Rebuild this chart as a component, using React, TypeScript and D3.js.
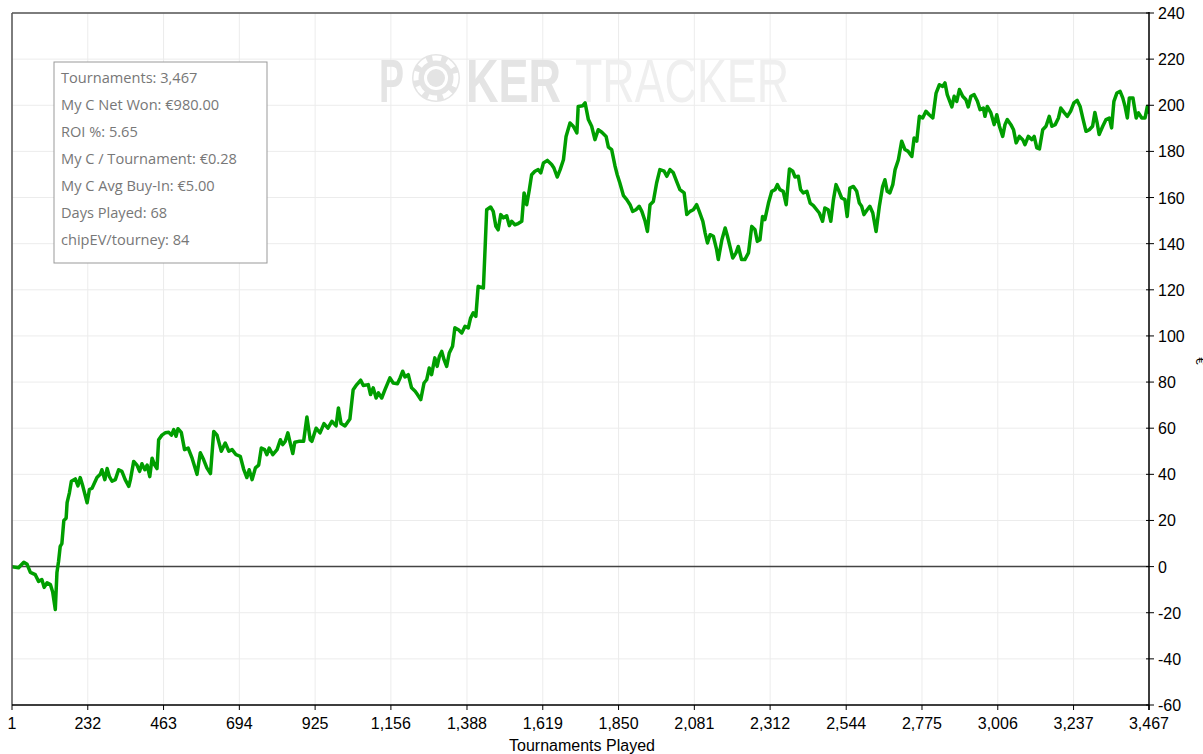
import React from "react";
import * as d3 from "d3";

const tournaments = [1,21,37,47,57,72,82,92,99,108,118,125,133,138,143,148,153,159,166,169,176,182,194,202,209,217,230,237,245,260,270,275,284,291,298,306,316,326,336,346,357,362,372,382,390,397,406,413,421,428,436,443,448,458,468,479,487,494,501,507,517,527,538,550,565,575,585,595,606,616,626,639,651,662,672,684,697,707,717,724,733,743,753,761,771,778,785,796,809,819,826,834,842,849,857,863,875,890,900,910,915,928,940,952,964,976,989,996,1004,1016,1031,1041,1052,1064,1072,1087,1094,1102,1111,1118,1128,1138,1153,1163,1176,1184,1192,1199,1209,1219,1230,1237,1247,1257,1265,1273,1280,1290,1297,1304,1311,1318,1326,1334,1344,1351,1362,1372,1382,1392,1399,1407,1415,1422,1438,1443,1448,1460,1468,1476,1483,1491,1499,1509,1517,1524,1534,1544,1555,1562,1570,1578,1585,1595,1605,1613,1621,1633,1646,1653,1663,1672,1682,1690,1702,1712,1723,1727,1741,1748,1758,1768,1778,1788,1799,1812,1819,1829,1839,1846,1854,1865,1875,1885,1893,1903,1913,1921,1931,1938,1946,1956,1966,1976,1989,1997,2007,2017,2027,2037,2050,2058,2068,2078,2088,2096,2107,2114,2121,2129,2139,2149,2154,2165,2175,2182,2192,2198,2208,2215,2225,2235,2246,2256,2266,2273,2281,2289,2296,2307,2317,2327,2334,2342,2352,2361,2371,2381,2388,2398,2405,2413,2424,2434,2444,2454,2462,2472,2479,2489,2497,2505,2513,2520,2530,2540,2547,2555,2566,2576,2584,2591,2598,2608,2616,2625,2635,2645,2655,2662,2669,2677,2686,2693,2703,2713,2723,2733,2744,2751,2759,2767,2777,2787,2797,2808,2818,2828,2838,2845,2852,2866,2873,2881,2889,2899,2909,2916,2924,2934,2944,2952,2962,2967,2974,2985,2995,3003,3011,3021,3028,3035,3046,3054,3062,3072,3082,3089,3099,3110,3117,3125,3133,3143,3153,3163,3171,3181,3191,3198,3208,3218,3228,3238,3248,3257,3265,3275,3285,3295,3302,3309,3315,3326,3336,3346,3353,3360,3369,3379,3387,3394,3401,3407,3418,3428,3435,3445,3455,3462,3467];

const netWon = [0,-0.5,1.9,1,-2.5,-3.5,-6.4,-5.6,-9,-7,-7.8,-11,-18.6,-2.6,2.3,8.8,10,20,21,27.7,32,37,38,35,38.6,34.8,27.7,33.4,34,38.6,40,42,37.7,42.5,39,37,37.7,42,41.3,37.7,34.8,37.7,45.6,44,41.3,44.6,42,44,39,47,44,42.5,55,57,58,58.2,57,59.4,56.5,59.8,58.2,50.7,51.4,47,40,49.4,46.4,42.8,40.3,58.6,57,50,53.6,50,50.7,48.5,47.8,42.3,38.6,42,37.7,42.8,44,51.4,50.7,48.5,51.4,48.5,50.7,55,52.9,54.3,58,53.6,49,53.9,54.3,54.3,64.9,55,54.3,60,58,62,60,63,61,68.8,62,61,64,76.7,78.9,80.8,78.5,78.9,74.6,77.5,73.1,75.3,73.1,76.7,81.8,79.6,79.3,81.8,84.7,82.2,83.2,77.5,76,74.6,72.4,79.6,81,86.1,83.2,90.5,86.8,91.2,93.3,89.7,86.8,92.6,95.5,103.5,102.7,101.3,104.2,103.5,107.8,110,108.5,121.5,120.8,137.4,154.7,155.9,154,147.5,146,152.6,151.2,152.1,147.8,149.7,148.2,148.7,149.7,162,156.9,163.4,169.9,171.4,172.1,170.7,175,176.1,174.3,172.8,168.9,172.1,176.4,186.5,192.3,190.9,188,199.5,199.8,201,193.8,190.9,185.1,189.4,188.3,186.5,181.9,180.8,173.8,169.9,166.3,160.8,159.1,156.9,154,154.7,156.2,154,149.7,145.3,156.9,158.3,166.3,172.1,171.4,169.2,172.1,170.7,167,163.4,162,152.6,154,154.7,156.9,154,149.7,144.6,140.3,143.9,143.2,137.4,133.1,141.7,146.8,143.2,137.4,133.8,136,138.8,133.1,133.1,136,147.5,146,141,141.7,151.8,150.4,157.6,162.7,163.4,165.6,163.4,162.7,156.9,172.4,171.4,168.9,169.2,163.4,162,162.7,157.6,156.5,154.7,153.3,149.7,155.5,154.7,149.7,159.1,165.6,163.4,159.8,159.1,151.8,164.1,164.8,162.7,157.6,156.2,152.6,154.7,156.2,153.3,145.3,156.2,164.8,167.7,162.7,162,165.6,172.1,176.4,184.4,180.8,180,177.8,185.8,184.4,195.2,194.5,197.4,195.9,194.5,205.3,208.9,208.2,209.7,204.6,199.3,203.9,201.7,206.8,203.9,202.4,199.3,203.9,204.6,201.7,198.1,198.8,195.2,199.5,196.7,191.6,195.9,190.9,186.5,191.6,193.8,191.6,189.4,183.7,186.5,185.1,182.9,186.5,185.1,186.5,181.5,181.1,189.4,190.9,195.2,190.9,191.6,194.5,198.8,196.9,195.2,197.4,201,202.1,199.5,194.5,188.7,189.4,190.9,196.9,192.3,187.3,190.9,193.8,194.5,190.2,201.7,205.3,206,203.2,199.5,194.5,203.2,203.2,194.5,196.7,194.5,194.5,199.5,197];

const xTicks = [1,232,463,694,925,1156,1388,1619,1850,2081,2312,2544,2775,3006,3237,3467];
const yTicks = [-60,-40,-20,0,20,40,60,80,100,120,140,160,180,200,220,240];

const infoLines = [
  "Tournaments: 3,467",
  "My C Net Won: €980.00",
  "ROI %: 5.65",
  "My C / Tournament: €0.28",
  "My C Avg Buy-In: €5.00",
  "Days Played: 68",
  "chipEV/tourney: 84",
];

const xTitle = "Tournaments Played";

export default function App() {
  const W = 1203, H = 754;
  const L = 12, R = 1149, T = 13, B = 705;
  const x = d3.scaleLinear().domain([1, 3467]).range([L, R]);
  const y = d3.scaleLinear().domain([-60, 240]).range([B, T]);
  const pts: [number, number][] = tournaments.map((t, i) => [t, netWon[i]]);
  const line = d3.line<[number, number]>().x(d => x(d[0])).y(d => y(d[1]));
  const fmt = d3.format(",");
  const axisFont = "'Liberation Sans', Arial, sans-serif";
  const infoFont = "'Open Sans', 'Noto Sans', sans-serif";

  return (
    <svg width={W} height={H} style={{ position: "absolute", left: 0, top: 0, background: "#fff" }}>
      <rect x={0} y={0} width={W} height={H} fill="#fff" />
      {yTicks.map(v => (
        <line key={"gy" + v} x1={L} x2={R} y1={y(v)} y2={y(v)} stroke="#ececec" strokeWidth={1} />
      ))}
      {xTicks.map(v => (
        <line key={"gx" + v} x1={x(v)} x2={x(v)} y1={T} y2={B} stroke="#ececec" strokeWidth={1} />
      ))}
      <g>
        <text x={379} y={102} fontFamily={axisFont} fontWeight="bold" fontSize={62} fill="#e4e4e4" textLength={25} lengthAdjust="spacingAndGlyphs">P</text>
        <circle cx={436} cy={78} r={24} fill="#e4e4e4" />
        <circle cx={436} cy={78} r={20} fill="none" stroke="#fff" strokeWidth={5} strokeDasharray="9 6" />
        <circle cx={436} cy={78} r={12} fill="#fff" />
        <circle cx={436} cy={78} r={9} fill="#e4e4e4" />
        <text x={466} y={102} fontFamily={axisFont} fontWeight="bold" fontSize={62} fill="#e4e4e4" textLength={95} lengthAdjust="spacingAndGlyphs">KER</text>
        <text x={575} y={102} fontFamily={axisFont} fontSize={62} fill="#efefef" textLength={214} lengthAdjust="spacingAndGlyphs">TRACKER</text>
      </g>
      <line x1={L} x2={R} y1={y(0)} y2={y(0)} stroke="#444" strokeWidth={1.5} />
      <defs>
        <clipPath id="plotClip">
          <rect x={L} y={T} width={R - L} height={B - T} />
        </clipPath>
      </defs>
      <path d={line(pts) || ""} fill="none" stroke="#009e00" strokeWidth={3.5} strokeLinejoin="round" strokeLinecap="round" clipPath="url(#plotClip)" />
      <line x1={L} x2={R} y1={T} y2={T} stroke="#555" strokeWidth={1.5} />
      <line x1={L} x2={L} y1={T} y2={B} stroke="#555" strokeWidth={1.5} />
      <line x1={R} x2={R} y1={T - 1} y2={B + 5} stroke="#000" strokeWidth={1.5} />
      <line x1={L} x2={R} y1={B} y2={B} stroke="#000" strokeWidth={1.5} />
      {xTicks.map(v => (
        <g key={"xt" + v}>
          <line x1={x(v)} x2={x(v)} y1={B} y2={B + 5} stroke="#000" strokeWidth={1} />
          <text x={x(v)} y={729} textAnchor="middle" fontFamily={axisFont} fontSize={16} fill="#000">{fmt(v)}</text>
        </g>
      ))}
      {yTicks.map(v => (
        <g key={"yt" + v}>
          <line x1={R - 3} x2={R + 5} y1={y(v)} y2={y(v)} stroke="#000" strokeWidth={1} />
          <text x={1158} y={y(v) + 6} fontFamily={axisFont} fontSize={16} fill="#000">{v}</text>
        </g>
      ))}
      <text x={582} y={751} textAnchor="middle" fontFamily={axisFont} fontSize={16} fill="#000">{xTitle}</text>
      <text transform="translate(1196,361) rotate(90)" textAnchor="middle" fontFamily={axisFont} fontSize={13} fill="#000">€</text>
      <rect x={54} y={62} width={213} height={201} fill="#fff" stroke="#999" strokeWidth={1} />
      {infoLines.map((s, i) => (
        <text key={s} x={61} y={83 + i * 27} fontFamily={infoFont} fontSize={14.6} fill="#777">{s}</text>
      ))}
    </svg>
  );
}
